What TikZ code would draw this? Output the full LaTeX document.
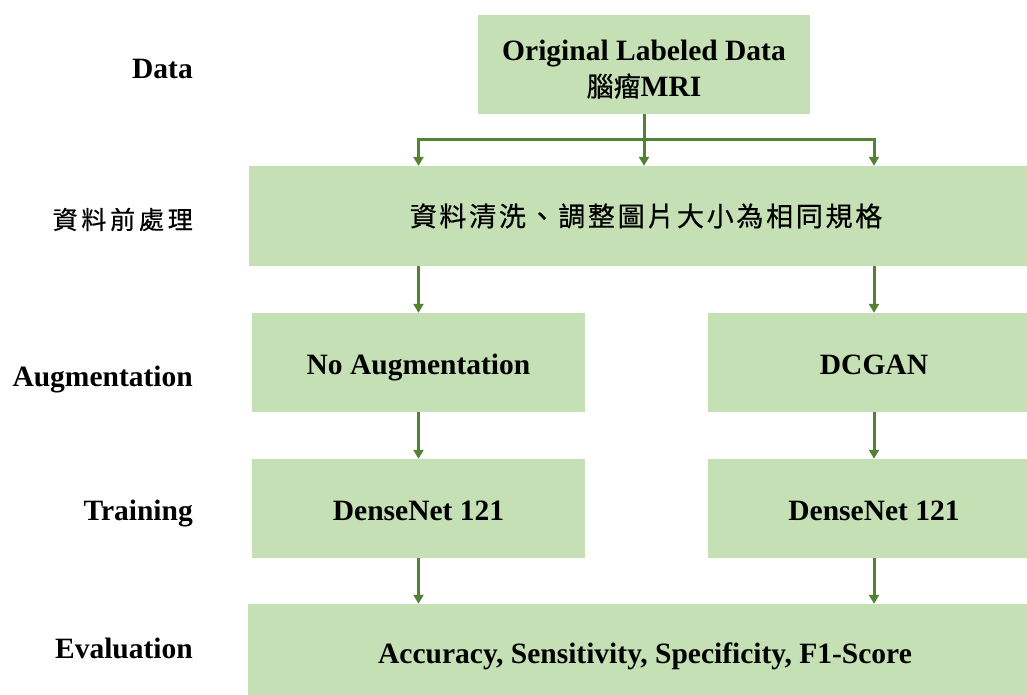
\documentclass[tikz,border=0pt]{standalone}
\usepackage{fontspec}
\setmainfont{Liberation Serif}
\newfontfamily\cjk[FakeBold=0.6]{Noto Sans CJK TC}
\usetikzlibrary{arrows.meta}
\definecolor{boxgreen}{HTML}{C5E0B4}
\definecolor{arrgreen}{HTML}{548235}
\newdimen\cjkgap
\def\spacedcjk#1{\spacedaux#1\relax}
\def\spacedaux#1#2{#1\ifx#2\relax\else\hskip\cjkgap\expandafter\spacedaux\expandafter#2\fi}
\begin{document}
\begin{tikzpicture}[x=1pt,y=-1pt,
  box/.style={fill=boxgreen,draw=none,inner sep=0pt,align=center,
    font=\fontsize{29.5}{36}\selectfont\bfseries},
  oneline/.style={text height=27pt,text depth=4pt},
  lbl/.style={anchor=east,inner sep=0pt,text height=27pt,text depth=6pt,
    font=\fontsize{29.5}{36}\selectfont\bfseries},
  tip/.style={Triangle[width=10pt,length=9pt]},
  arr/.style={draw=arrgreen,line width=3pt,-{Triangle[width=10pt,length=9pt]}},
  arrs/.style={draw=arrgreen,line width=3pt,{Triangle[width=10pt,length=9pt]}-{Triangle[width=10pt,length=9pt]}}]
\useasboundingbox (0,0) rectangle (1027,695);
\node[box,minimum width=332pt,minimum height=99pt] (top) at (644,64.5)
  {\rule{0pt}{30pt}Original Labeled Data\\{\cjk\mdseries\fontsize{27}{36}\selectfont 腦瘤}MRI};
\node[box,minimum width=794pt,minimum height=100pt] (pre) at (646,216)
  {\cjk\mdseries\fontsize{27}{30}\selectfont\cjkgap=2.7pt\spacedcjk{資料清洗、調整圖片大小為相同規格}};
\node[box,oneline,minimum width=333pt,minimum height=99pt] (aug1) at (418.5,362.5) {No Augmentation};
\node[box,oneline,minimum width=332pt,minimum height=99pt] (aug2) at (874,362.5) {DCGAN};
\node[box,oneline,minimum width=333pt,minimum height=99pt] (tr1) at (418.5,508.5) {DenseNet 121};
\node[box,oneline,minimum width=332pt,minimum height=99pt] (tr2) at (874,508.5) {DenseNet 121};
\node[box,oneline,minimum width=794pt,minimum height=96pt] (ev) at (645,652) {Accuracy, Sensitivity, Specificity, F1-Score};
\coordinate (j) at (645,140);
\draw[arr] (top.south) -- (top.south |- pre.north);
\draw[arrs] (aug1.north |- pre.north) |- (j) -| (aug2.north |- pre.north);
\draw[arr] (pre.south -| aug1) -- (aug1.north);
\draw[arr] (pre.south -| aug2) -- (aug2.north);
\draw[arr] (aug1.south) -- (tr1.north);
\draw[arr] (aug2.south) -- (tr2.north);
\draw[arr] (tr1.south) -- (ev.north -| tr1);
\draw[arr] (tr2.south) -- (ev.north -| tr2);
\node[lbl] (l1) at (193,68) {Data};
\node[lbl,text height=22pt,text depth=6pt,font=\cjk\fontsize{25}{30}\selectfont] (l2) at (193,221) {\cjkgap=3.8pt\spacedcjk{資料前處理}};
\node[lbl] (l3) at (193,376) {Augmentation};
\node[lbl] (l4) at (193,510) {Training};
\node[lbl] (l5) at (193,648) {Evaluation};
\end{tikzpicture}
\end{document}
